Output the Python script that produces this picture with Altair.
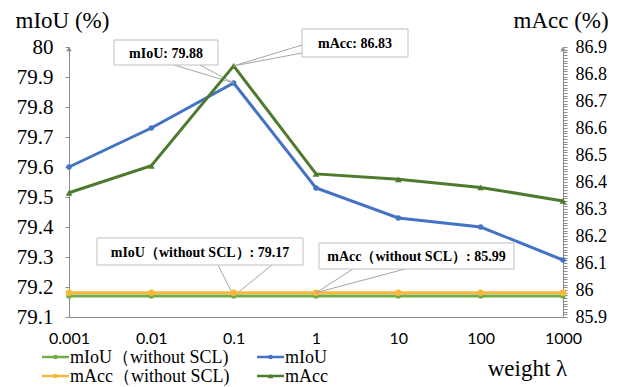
import altair as alt
import pandas as pd

# ---------------- data ----------------
weights = ["0.001", "0.01", "0.1", "1", "10", "100", "1000"]
miou = [79.60, 79.73, 79.88, 79.53, 79.43, 79.40, 79.29]
macc = [86.36, 86.46, 86.83, 86.43, 86.41, 86.38, 86.33]
miou_wo = [79.17, 79.17, 79.17, 79.17, 79.17, 79.17, 79.17]
macc_wo = [85.99, 85.99, 85.99, 85.99, 85.99, 85.99, 85.99]

series_names = ["mIoU（without SCL)", "mIoU", "mAcc（without SCL)", "mAcc"]
series_colors = ["#70AD47", "#4472C4", "#F8B83C", "#4E7A2E"]
series_shapes = ["circle", "circle", "circle", "triangle-up"]

left_ticks = [79.1, 79.2, 79.3, 79.4, 79.5, 79.6, 79.7, 79.8, 79.9, 80]
right_ticks = [round(85.9 + i * 0.01, 2) for i in range(101)]

rows = []
for name, vals in zip(series_names, [miou_wo, miou, macc_wo, macc]):
    for w, v in zip(weights, vals):
        rows.append({"weight": w, "series": name, "value": v})
df = pd.DataFrame(rows)
df_left = df[df.series.isin(series_names[:2])]
df_right = df[df.series.isin(series_names[2:])]
one = pd.DataFrame({"k": [0]})

# ---------------- styles ----------------
SERIF = "Liberation Serif"
SANS = "Lato"
GRAY = "#8c8c8c"
W, H = 494, 270

x_enc = alt.X(
    "weight:O", sort=weights, scale=alt.Scale(type="point", padding=0),
    axis=alt.Axis(
        title="weight λ", labelAngle=0, ticks=False, tickSize=0, labelFont=SANS,
        labelFontSize=16, labelColor="#000", labelPadding=13, domainColor=GRAY,
        titleFont=SERIF, titleFontSize=23, titleFontWeight="normal", titleColor="#000",
        titleX=458, titleY=51, titleBaseline="middle", titleAlign="center", grid=False,
    ),
)

yL = alt.Y(
    "value:Q", scale=alt.Scale(domain=[79.1, 80], nice=False, zero=False),
    axis=alt.Axis(
        orient="left", values=left_ticks, labelExpr="'' + datum.value",
        title="mIoU (%)", titleAngle=0, titleX=-54, titleY=-27, titleAlign="left",
        titleBaseline="middle", titleFont=SERIF, titleFontSize=23,
        titleFontWeight="normal", titleColor="#000",
        labelFont=SERIF, labelFontSize=21, labelColor="#000", labelPadding=12,
        tickSize=4, tickColor=GRAY, domainColor=GRAY, grid=False,
    ),
)

yR = alt.Y(
    "value:Q", scale=alt.Scale(domain=[85.9, 86.9], nice=False, zero=False),
    axis=alt.Axis(
        orient="right", values=right_ticks,
        labelExpr="round(datum.value*100) % 10 == 0 ? '' + round(datum.value*10)/10 : ''",
        title="mAcc (%)", titleAngle=0, titleX=-50, titleY=-27, titleAlign="left",
        titleBaseline="middle", titleFont=SERIF, titleFontSize=23,
        titleFontWeight="normal", titleColor="#000",
        labelFont=SERIF, labelFontSize=18, labelColor="#000", labelPadding=8,
        labelOverlap=False, labelBound=False, labelFlush=False,
        tickSize=4, tickColor=GRAY, domainColor=GRAY, grid=False,
    ),
)

color = alt.Color("series:N", scale=alt.Scale(domain=series_names, range=series_colors), legend=None)


def rules(data, series, weight, yenc, anchors):
    d = data[(data.series == series) & (data.weight == weight)]
    return [
        alt.Chart(d).mark_rule(color="#a6a6a6", strokeWidth=1).encode(
            x=x_enc, y=yenc, x2=alt.value(ax), y2=alt.value(ay)
        )
        for ax, ay in anchors
    ]


def box(x1, y1, x2, y2, label):
    r = alt.Chart(one).mark_rect(fill="white", stroke="#bfbfbf", strokeWidth=1).encode(
        x=alt.value(x1), x2=alt.value(x2), y=alt.value(y1), y2=alt.value(y2)
    )
    t = alt.Chart(one).mark_text(
        font=SERIF, fontSize=14, fontWeight="bold", color="#000",
        align="center", baseline="middle",
    ).encode(x=alt.value((x1 + x2) / 2), y=alt.value((y1 + y2) / 2 + 1), text=alt.value(label))
    return [r, t]


# ---------------- left (mIoU) ----------------
left = alt.layer(
    alt.Chart(df_left).mark_line(strokeWidth=3).encode(x=x_enc, y=yL, color=color),
    alt.Chart(df_left).mark_circle(size=30, opacity=1).encode(x=x_enc, y=yL, color=color),
    *rules(df_left, "mIoU", "0.1", yL, [(105, 18), (131, 18)]),
    *rules(df_left, series_names[0], "0.1", yL, [(149, 218), (203, 218)]),
)

# ---------------- right (mAcc) ----------------
right = alt.layer(
    alt.Chart(df_right).mark_line(strokeWidth=3).encode(x=x_enc, y=yR, color=color),
    alt.Chart(df_right[df_right.series == series_names[2]]).mark_circle(size=42, opacity=1).encode(
        x=x_enc, y=yR, color=color),
    alt.Chart(df_right[df_right.series == "mAcc"]).mark_point(
        shape="triangle-up", filled=True, size=45, opacity=1).encode(x=x_enc, y=yR, color=color),
    *rules(df_right, "mAcc", "0.1", yR, [(233, -2), (233, 6)]),
    *rules(df_right, series_names[2], "1", yR, [(284, 222), (336, 222)]),
)

# ---------------- legend (drawn as marks) ----------------
legend_layers = []
leg_pos = [(-27, 310), (188, 310), (-27, 329), (188, 329)]  # (line start x, row y) per entry
for (lx, ly), name, col, shp in zip(leg_pos, series_names, series_colors, series_shapes):
    legend_layers.append(
        alt.Chart(one).mark_rule(color=col, strokeWidth=2.5).encode(
            x=alt.value(lx), x2=alt.value(lx + 27), y=alt.value(ly))
    )
    legend_layers.append(
        alt.Chart(one).mark_point(shape=shp, filled=True, size=22 if shp == "circle" else 30,
                                  color=col, opacity=1).encode(
            x=alt.value(lx + 13.5), y=alt.value(ly))
    )
    legend_layers.append(
        alt.Chart(one).mark_text(font=SERIF, fontSize=18, color="#000", align="left",
                                 baseline="middle").encode(
            x=alt.value(lx + 28), y=alt.value(ly + 1), text=alt.value(name))
    )

arrows = [
    alt.Chart(one).mark_point(shape="triangle-up", filled=True, size=30, color=GRAY, opacity=1).encode(
        x=alt.value(xv), y=alt.value(2))
    for xv in (0, W)
]

annotations = (
    box(45, -7, 149, 18, "mIoU: 79.88")
    + box(233, -18, 339, 10, "mAcc: 86.83")
    + box(28, 191, 234, 218, "mIoU（without SCL）: 79.17")
    + box(250, 196, 445, 222, "mAcc（without SCL）: 85.99")
)

chart = alt.layer(left, right, *arrows, *annotations, *legend_layers).resolve_scale(
    y="independent"
).properties(
    width=W, height=H,
    autosize=alt.AutoSizeParams(type="none"),
    padding={"left": 61, "top": 39, "right": 55, "bottom": 70},
).configure_view(stroke=None)

chart.save("out.html", embed_options={"renderer": "svg", "actions": False})
